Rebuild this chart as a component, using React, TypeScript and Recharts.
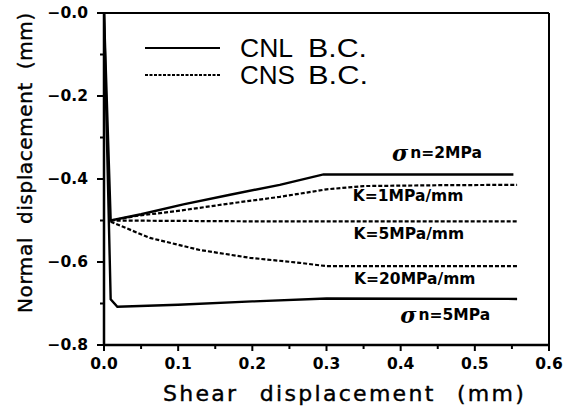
import React from 'react';
import { LineChart, Line, XAxis, YAxis, ReferenceDot, ReferenceLine } from 'recharts';

// ---- data (mm) ----
const cnl2X = [0, 0.009, 0.05, 0.107, 0.17, 0.237, 0.296, 0.552];
const cnl2Y = [0, -0.5, -0.485, -0.461, -0.438, -0.414, -0.389, -0.389];

const cnl5X = [0, 0.009, 0.018, 0.1, 0.2, 0.3, 0.557];
const cnl5Y = [0, -0.69, -0.708, -0.703, -0.695, -0.688, -0.689];

const k1X = [0.009, 0.04, 0.107, 0.174, 0.237, 0.3, 0.35, 0.45, 0.557];
const k1Y = [-0.5, -0.49, -0.475, -0.458, -0.443, -0.425, -0.417, -0.415, -0.414];

const k5X = [0.009, 0.1, 0.2, 0.3, 0.4, 0.557];
const k5Y = [-0.5, -0.501, -0.502, -0.502, -0.502, -0.502];

const k20X = [0.009, 0.062, 0.129, 0.197, 0.264, 0.3, 0.4, 0.557];
const k20Y = [-0.503, -0.542, -0.571, -0.59, -0.602, -0.61, -0.61, -0.61];

const xTicks = [0, 0.05, 0.1, 0.15, 0.2, 0.25, 0.3, 0.35, 0.4, 0.45, 0.5, 0.55, 0.6];
const yTicks = [0, -0.1, -0.2, -0.3, -0.4, -0.5, -0.6, -0.7, -0.8];

const annotations = [
  { x: 0.449, y: -0.337, sigma: true, text: 'n=2MPa' },
  { x: 0.41, y: -0.44, sigma: false, text: 'K=1MPa/mm' },
  { x: 0.411, y: -0.532, sigma: false, text: 'K=5MPa/mm' },
  { x: 0.419, y: -0.641, sigma: false, text: 'K=20MPa/mm' },
  { x: 0.46, y: -0.728, sigma: true, text: 'n=5MPa' },
];

const toPts = (xs: number[], ys: number[]) => xs.map((x, i) => ({ x, y: ys[i] }));

const FONT = '"DejaVu Sans", sans-serif';

const XTick = (props: any) => {
  const { x, y, payload } = props;
  const v = payload.value as number;
  const major = Math.round(v * 20) % 2 === 0;
  return (
    <g>
      <line x1={x} x2={x} y1={y} y2={y + (major ? 6 : 4)} stroke="#000" strokeWidth={2} />
      {major && (
        <text x={x} y={y + 19} textAnchor="middle" dominantBaseline="central" fontFamily={FONT} fontWeight="bold" fontSize={15.5} fill="#000">
          {v.toFixed(1)}
        </text>
      )}
    </g>
  );
};

const YTick = (props: any) => {
  const { x, y, payload } = props;
  const v = payload.value as number;
  const major = Math.round(Math.abs(v) * 10) % 2 === 0;
  return (
    <g>
      <line x1={x} x2={x - (major ? 7 : 4)} y1={y} y2={y} stroke="#000" strokeWidth={2} />
      {major && (
        <text x={x - 16} y={y} textAnchor="end" dominantBaseline="central" fontFamily={FONT} fontWeight="bold" fontSize={15.5} fill="#000">
          {'\u2212' + Math.abs(v).toFixed(1)}
        </text>
      )}
    </g>
  );
};

const makeAnno = (text: string, sigma: boolean) => (props: any) => {
  const vb = props.viewBox || {};
  const cx = (vb.x || 0) + (vb.width || 0) / 2;
  const cy = (vb.y || 0) + (vb.height || 0) / 2;
  return (
    <text x={cx} y={cy} textAnchor="middle" dominantBaseline="central" fontFamily={FONT} fontWeight="bold" fontSize={15.5} fill="#000">
      {sigma && (
        <tspan fontStyle="italic" fontWeight="bold" fontSize={22} fontFamily='"DejaVu Serif", serif'>
          {'\u03c3'}
        </tspan>
      )}
      <tspan dx={sigma ? 2 : 0}>{text}</tspan>
    </text>
  );
};

export default function App() {
  return (
    <div style={{ position: 'absolute', left: 0, top: 0, width: 572, height: 410, background: '#fff' }}>
      <LineChart width={572} height={410} margin={{ top: 13, right: 23, bottom: 17, left: 44 }}>
        <XAxis
          type="number"
          dataKey="x"
          domain={[0, 0.6]}
          ticks={xTicks}
          interval={0}
          tickSize={0}
          tickMargin={0}
          tickLine={false}
          tick={<XTick />}
          axisLine={{ stroke: '#000', strokeWidth: 2.5 }}
          height={48}
          allowDataOverflow
        />
        <YAxis
          type="number"
          dataKey="y"
          domain={[-0.8, 0]}
          ticks={yTicks}
          interval={0}
          tickSize={0}
          tickMargin={0}
          tickLine={false}
          tick={<YTick />}
          axisLine={{ stroke: '#000', strokeWidth: 2.5 }}
          width={60}
          allowDataOverflow
        />
        <ReferenceLine y={0} stroke="#000" strokeWidth={2} ifOverflow="visible" />
        <ReferenceLine x={0.6} stroke="#000" strokeWidth={2} ifOverflow="visible" />

        <Line data={toPts(cnl2X, cnl2Y)} dataKey="y" type="linear" stroke="#000" strokeWidth={2.4} dot={false} isAnimationActive={false} />
        <Line data={toPts(cnl5X, cnl5Y)} dataKey="y" type="linear" stroke="#000" strokeWidth={2.4} dot={false} isAnimationActive={false} />
        <Line data={toPts(k1X, k1Y)} dataKey="y" type="linear" stroke="#000" strokeWidth={2.2} strokeDasharray="4 2" dot={false} isAnimationActive={false} />
        <Line data={toPts(k5X, k5Y)} dataKey="y" type="linear" stroke="#000" strokeWidth={2.2} strokeDasharray="4 2" dot={false} isAnimationActive={false} />
        <Line data={toPts(k20X, k20Y)} dataKey="y" type="linear" stroke="#000" strokeWidth={2.2} strokeDasharray="4 2" dot={false} isAnimationActive={false} />

        {annotations.map((a, i) => (
          <ReferenceDot key={i} x={a.x} y={a.y} r={0} fill="none" stroke="none" label={{ content: makeAnno(a.text, a.sigma) }} />
        ))}
      </LineChart>
      <svg width={572} height={410} style={{ position: 'absolute', left: 0, top: 0, pointerEvents: 'none' }}>
        <line x1={145} x2={220} y1={48} y2={48} stroke="#000" strokeWidth={2} />
        <line x1={145} x2={220} y1={75} y2={75} stroke="#000" strokeWidth={2} strokeDasharray="3 1.5" />
        <text x={240} y={48} dominantBaseline="central" fontFamily='"Liberation Sans", sans-serif' fontSize={25} textLength={53} lengthAdjust="spacingAndGlyphs">CNL</text>
        <text x={308} y={48} dominantBaseline="central" fontFamily='"Liberation Sans", sans-serif' fontSize={25} textLength={59} lengthAdjust="spacingAndGlyphs">B.C.</text>
        <text x={240} y={75} dominantBaseline="central" fontFamily='"Liberation Sans", sans-serif' fontSize={25} textLength={55} lengthAdjust="spacingAndGlyphs">CNS</text>
        <text x={308} y={75} dominantBaseline="central" fontFamily='"Liberation Sans", sans-serif' fontSize={25} textLength={60} lengthAdjust="spacingAndGlyphs">B.C.</text>
        <text x={163} y={393} dominantBaseline="central" fontFamily={FONT} fontSize={22} letterSpacing={2.3} wordSpacing={12} stroke="#000" strokeWidth={0.4}>Shear displacement (mm)</text>
        <text x={0} y={0} transform="translate(25,313) rotate(-90)" dominantBaseline="central" fontFamily={FONT} fontSize={20} letterSpacing={0.6} wordSpacing={6} stroke="#000" strokeWidth={0.4}>Normal displacement (mm)</text>
      </svg>
    </div>
  );
}
